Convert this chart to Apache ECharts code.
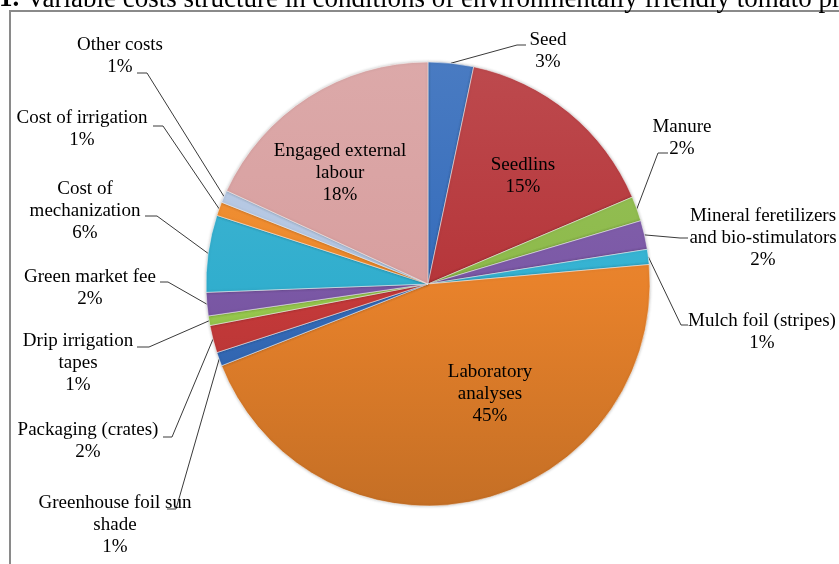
<!DOCTYPE html>
<html>
<head>
<meta charset="utf-8">
<script src="https://cdn.jsdelivr.net/npm/echarts@6/dist/echarts.min.js"></script>
<style>
html,body{margin:0;padding:0;background:#fff;}
#c{width:839px;height:564px;}
</style>
</head>
<body>
<div id="c"></div>
<script>
// ---- data ----
const categories = ['Seed','Seedlins','Manure','Mineral feretilizers and bio-stimulators','Mulch foil (stripes)','Laboratory analyses','Greenhouse foil sun shade','Packaging (crates)','Drip irrigation tapes','Green market fee','Cost of mechanization','Cost of irrigation','Other costs','Engaged external labour'];
const values = [3.3, 15.3, 1.8, 2.1, 1.1, 45.4, 1.0, 2.0, 0.7, 1.7, 5.6, 1.0, 0.9, 18.1];
const labelNames = ['Seed','Seedlins','Manure','Mineral feretilizers\nand bio-stimulators','Mulch foil (stripes)','Laboratory\nanalyses','Greenhouse foil sun\nshade','Packaging (crates)','Drip irrigation\ntapes','Green market fee','Cost of\nmechanization','Cost of irrigation','Other costs','Engaged external\nlabour'];
const titleText = 'Variable costs structure in conditions of environmentally friendly tomato pr';

// ---- styles / layout ----
const baseColors = ['#356cbb','#b6363a','#8dba4a','#7b58a6','#34b2d2','#e8822b','#356cbb','#c63a3a','#98ca4e','#7b58a6','#31aece','#ee892a','#b3c6e2','#d89f9f'];
const inside = [false,true,false,false,false,true,false,false,false,false,false,false,false,true];
// label centre positions and leader anchor (attach point, elbow point)
const labelPos = [[548,51],[523,176],[682,138],[763,238],[762,332],[490,394],[115,525],[88,441],[78,363],[90,288],[85,211],[82,129],[120,56],[340,173]];
const leader = [
  [[526,45],[517,45]], null, [[668,153],[658,153]], [[688,238],[680,238]], [[688,325],[681,325]], null,
  [[167,509],[176,509]], [[163,437],[172,437]], [[137,347],[149,347]], [[160,282],[168,282]],
  [[145,216],[157,216]], [[153,126],[163,126]], [[137,73],[147,73]], null
];

function shade(hex, f) {
  const n = parseInt(hex.slice(1), 16);
  let r = (n >> 16) & 255, g = (n >> 8) & 255, b = n & 255;
  if (f >= 0) { r += (255 - r) * f; g += (255 - g) * f; b += (255 - b) * f; }
  else { r *= 1 + f; g *= 1 + f; b *= 1 + f; }
  return 'rgb(' + Math.round(r) + ',' + Math.round(g) + ',' + Math.round(b) + ')';
}

const cx = 428, cy = 284, R = 222;
const serif = "'Liberation Serif','Times New Roman',serif";

const data = categories.map((name, i) => ({
  name: name,
  value: values[i],
  itemStyle: {
    color: {
      type: 'linear', global: true, x: 0, y: cy - R, x2: 0, y2: cy + R,
      colorStops: [
        {offset: 0, color: shade(baseColors[i], 0.1)},
        {offset: 0.5, color: baseColors[i]},
        {offset: 1, color: shade(baseColors[i], -0.15)}
      ]
    }
  },
  label: inside[i] ? {position: 'inside'} : {},
  labelLine: {show: !inside[i]}
}));

const chart = echarts.init(document.getElementById('c'), null, {renderer: 'canvas'});
chart.setOption({
  animation: false,
  backgroundColor: '#fff',
  graphic: [
    {
      type: 'rect', silent: true, z: -1,
      shape: {x: 10, y: 11, width: 900, height: 700},
      style: {fill: 'none', stroke: '#8a8a8a', lineWidth: 2}
    },
    {
      type: 'text', silent: true,
      x: -1, y: 13,
      style: {
        text: '{b|1.} ' + titleText,
        font: '27px ' + serif,
        fill: '#000',
        verticalAlign: 'bottom',
        rich: {b: {fontWeight: 'bold', fontSize: 27, fontFamily: serif}}
      }
    }
  ],
  series: [{
    type: 'pie',
    center: [cx, cy],
    radius: [0, R],
    startAngle: 90,
    clockwise: true,
    avoidLabelOverlap: false,
    data: data,
    itemStyle: {borderColor: 'rgba(255,255,255,0.5)', borderWidth: 1, shadowBlur: 3, shadowColor: 'rgba(0,0,0,0.25)'},
    label: {
      show: true,
      position: 'outside',
      formatter: p => labelNames[p.dataIndex] + '\n' + Math.round(p.percent) + '%',
      fontFamily: serif,
      fontSize: 19,
      lineHeight: 22,
      color: '#000',
      align: 'center'
    },
    labelLine: {show: true, length: 10, length2: 10, lineStyle: {color: '#3a3a3a', width: 1}},
    labelLayout: function (params) {
      const i = params.dataIndex;
      const res = {x: labelPos[i][0], y: labelPos[i][1], align: 'center', verticalAlign: 'middle'};
      if (leader[i] && params.labelLinePoints) {
        const p0 = params.labelLinePoints[0];
        res.labelLinePoints = [[p0[0], p0[1]], leader[i][1], leader[i][0]];
      }
      return res;
    }
  }]
});
</script>
</body>
</html>
